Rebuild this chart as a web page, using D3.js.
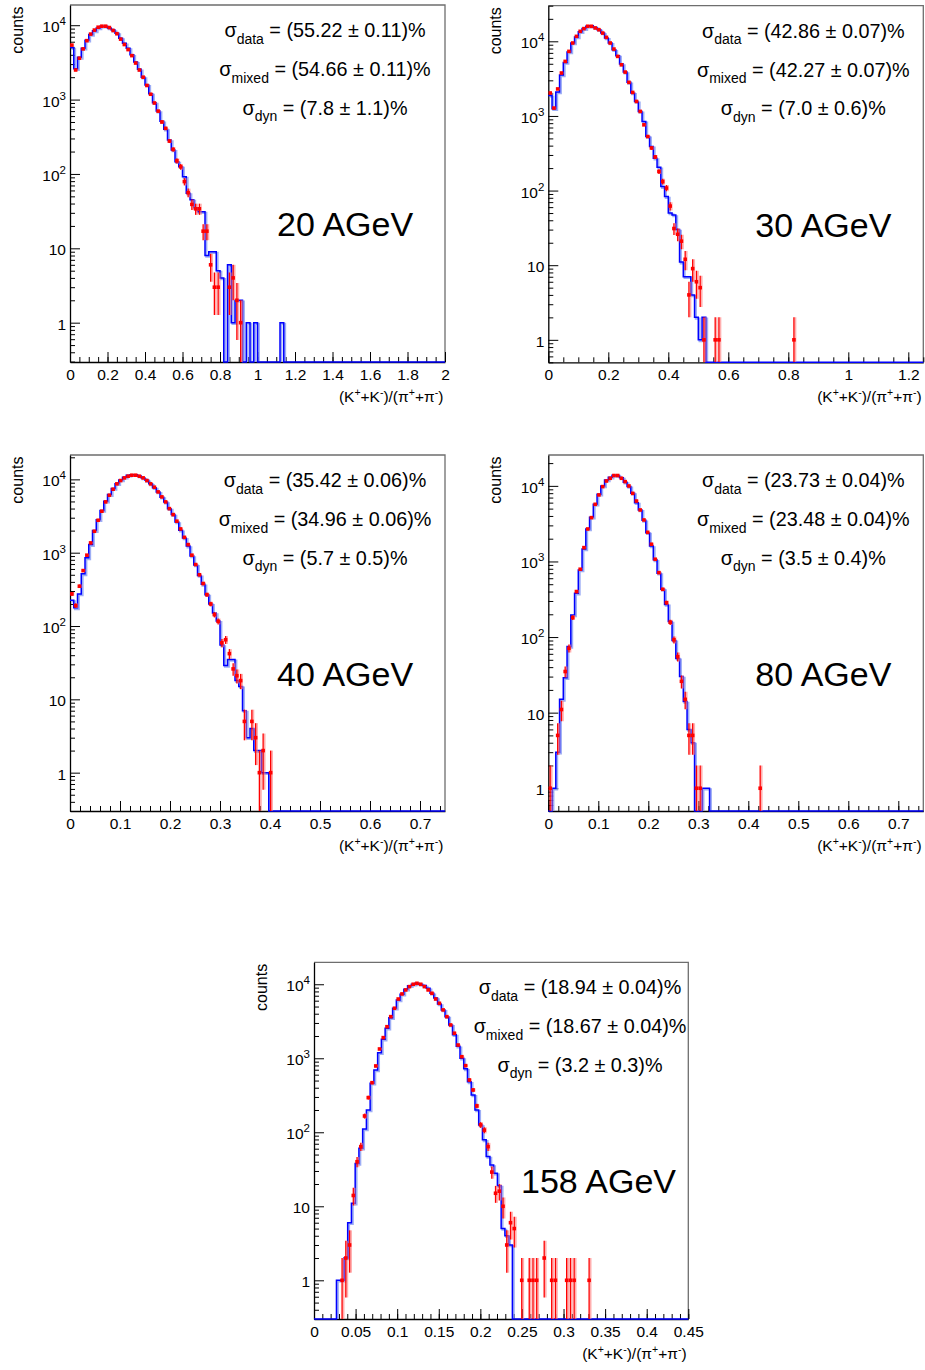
<!DOCTYPE html>
<html>
<head>
<meta charset="utf-8">
<script src="https://cdn.jsdelivr.net/npm/d3@7"></script>
<style>
  body { margin: 0; background: #fff; }
  svg { display: block; }
  text { font-family: "Liberation Sans", Arial, Helvetica, sans-serif; fill: #000; }
</style>
</head>
<body>
<svg id="chart" width="925" height="1370"></svg>
<script>
// ---- data (100 bins per panel, trailing bins are empty) ----
const NBINS = 100;

const energies = ["20 AGeV", "30 AGeV", "40 AGeV", "80 AGeV", "158 AGeV"];
const xMax = [2, 1.25, 0.75, 0.75, 0.45];

const sigmaData  = ["(55.22 \u00b1 0.11)%", "(42.86 \u00b1 0.07)%", "(35.42 \u00b1 0.06)%", "(23.73 \u00b1 0.04)%", "(18.94 \u00b1 0.04)%"];
const sigmaMixed = ["(54.66 \u00b1 0.11)%", "(42.27 \u00b1 0.07)%", "(34.96 \u00b1 0.06)%", "(23.48 \u00b1 0.04)%", "(18.67 \u00b1 0.04)%"];
const sigmaDyn   = ["(7.8 \u00b1 1.1)%", "(7.0 \u00b1 0.6)%", "(5.7 \u00b1 0.5)%", "(3.5 \u00b1 0.4)%", "(3.2 \u00b1 0.3)%"];

// mixed events (blue histogram)
const mixed20 = [5000,2600,3700,4900,6300,7500,8400,9200,9700,9700,9200,8600,7800,6700,5700,4900,4000,3200,2550,2000,
  1570,1200,910,700,510,400,285,210,146,125,92,55,45,35,31,31,8,9,9,5,4,0,6,1,2,2,0,1,0,1,0,0,0,0,0,0,1];
const mixed30 = [1880,1250,2100,3550,5200,7200,9500,11400,13400,14800,15900,16100,15300,14300,12900,11100,9500,7700,6400,4950,
  3870,2820,2030,1565,1150,845,530,390,272,205,113,83,50,47,30,11,7,7,4,2,1,2];
const mixed40 = [225,177,274,515,850,1290,2000,2820,3760,5030,6200,7500,8750,9800,10700,11400,11600,11600,11150,10480,
  9700,8690,7700,6750,5700,4900,3990,3310,2620,2020,1590,1230,900,680,490,370,268,200,150,117,55,29,35,35,18,15,7,3,4,2,2,1,1];
const mixed80 = [0,1,3,15,29,75,196,380,772,1465,2690,3845,5710,7740,9970,11970,13000,13800,13700,12800,
  11200,9800,8000,6000,4800,3500,2400,1600,1050,700,430,270,160,90,52,30,14,6,4,0,0,1,1];
const mixed158 = [0,0,0,0,0,0,1,1,2,6,11,38,61,111,200,460,695,1190,1810,2540,
  3540,4740,6140,7350,8560,9560,10000,10300,10000,9600,8800,7550,6500,5400,4500,3650,2820,2080,1450,1000,
  720,480,320,200,125,79,47,36,28,19,5,4,3];

// data (red points)
const data20 = [5400,2500,3600,4800,6200,7600,8600,9400,9700,9700,9300,8500,7700,6500,5500,4700,3900,3100,2500,2000,
  1550,1180,900,700,500,410,277,214,150,125,79,56,39,34,34,17,17,6,3,3,0,0,3,4,2,1];
const data30 = [2030,1275,2300,3760,5380,7330,9490,11650,13600,14800,15900,15900,15100,14300,12900,11300,9490,7870,6280,4850,
  3870,2820,2065,1565,1150,760,530,372,282,180,132,108,62,31,26,21,12,4,9,6,5,1,0,0,1,1,0,0,0,0,
  0,0,0,0,0,0,0,0,0,0,0,0,0,0,0,1];
const data40 = [274,190,349,570,925,1360,1960,2770,3680,4930,6080,7340,8690,9640,10480,11050,11400,11400,11050,10480,
  9640,8690,7820,6750,5770,4930,3990,3310,2690,2110,1620,1290,925,689,500,380,268,200,143,116,59,65,42,26,21,18,5,0,5,3,1,2,0,1];
const data80 = [1,0,5,11,35,71,181,400,789,1524,2690,3800,5700,7590,9780,11600,12600,13700,13700,12600,
  11370,9970,7960,6300,4800,3540,2430,1690,1070,711,428,285,157,92,55,26,15,5,5,1,1,0,0,0,0,0,0,0,0,0,
  0,0,0,0,0,0,1];
const data158 = [0,0,0,0,0,0,0,1,2,3,14,40,64,166,294,468,787,1335,1900,2670,
  3650,4740,6320,7400,8380,9290,10000,10300,10000,9290,8380,7550,6320,5530,4500,3650,2820,2180,1510,1050,
  795,509,373,227,126,107,64,29,15,16,10,3,6,5,0,1,0,1,1,1,0,2,0,1,1,0,0,1,1,1,0,0,0,1];

// axis ticks
const xTicks20 = [0,0.2,0.4,0.6,0.8,1,1.2,1.4,1.6,1.8,2];
const xTicks30 = [0,0.2,0.4,0.6,0.8,1,1.2];
const xTicks40 = [0,0.1,0.2,0.3,0.4,0.5,0.6,0.7];
const xTicks80 = [0,0.1,0.2,0.3,0.4,0.5,0.6,0.7];
const xTicks158 = [0,0.05,0.1,0.15,0.2,0.25,0.3,0.35,0.4,0.45];
const xMinorStep = [0.05, 0.05, 0.02, 0.02, 0.01];
const yTicks = [1, 10, 100, 1000, 10000];

// ---- layout ----
const frames = [
  { x: 70,    y: 5,     w: 375,   h: 357,   yDom: [0.296, 18700], statX: 255 },
  { x: 548.3, y: 5.7,   w: 375,   h: 356.6, yDom: [0.5, 30000],   statX: 255 },
  { x: 70,    y: 455,   w: 375,   h: 356,   yDom: [0.3, 21500],   statX: 255 },
  { x: 548.3, y: 455,   w: 375,   h: 356,   yDom: [0.5, 25600],   statX: 255 },
  { x: 314,   y: 962.3, w: 374.3, h: 356.7, yDom: [0.3, 19800],   statX: 266 }
];

const mixedSets = [mixed20, mixed30, mixed40, mixed80, mixed158];
const dataSets = [data20, data30, data40, data80, data158];
const xTickSets = [xTicks20, xTicks30, xTicks40, xTicks80, xTicks158];

const svg = d3.select("#chart");
const fmt = d3.format("~g");

frames.forEach((f, i) => drawPanel(i, f));

function drawPanel(i, f) {
  const g = svg.append("g").attr("transform", `translate(${f.x},${f.y})`);
  const x = d3.scaleLinear().domain([0, xMax[i]]).range([0, f.w]);
  const y = d3.scaleLog().domain(f.yDom).range([f.h, 0]);
  const bw = xMax[i] / NBINS;
  const yc = v => v > f.yDom[0] ? Math.max(0, y(v)) : f.h;

  g.append("clipPath").attr("id", "clip" + i)
    .append("rect").attr("x", 0).attr("y", 0).attr("width", f.w).attr("height", f.h);

  // frame: top/right grey, axes black
  g.append("path")
    .attr("d", `M0,0H${f.w}V${f.h}`)
    .attr("fill", "none").attr("stroke", "#6e6e6e").attr("stroke-width", 1.3);

  // x axis: minor then major ticks (inside)
  const minor = d3.range(0, xMax[i] + 1e-9, xMinorStep[i]);
  g.append("g").attr("transform", `translate(0,${f.h})`)
    .call(d3.axisBottom(x).tickValues(minor).tickSize(-5).tickSizeOuter(0).tickFormat(""))
    .call(a => a.select(".domain").remove());
  const xa = g.append("g").attr("transform", `translate(0,${f.h})`)
    .call(d3.axisBottom(x).tickValues(xTickSets[i]).tickSize(-10).tickSizeOuter(0)
      .tickPadding(7).tickFormat(fmt));
  xa.selectAll("text").attr("font-size", 15.5).attr("font-family", null);
  xa.select(".domain").attr("stroke", "#000").attr("stroke-width", 1.3);
  xa.selectAll(".tick line").attr("stroke", "#000");

  // y axis: log minor ticks
  const yMinor = [];
  for (let e = -1; e <= 4; e++) {
    for (let k = 2; k <= 9; k++) {
      const v = k * Math.pow(10, e);
      if (v >= f.yDom[0] && v <= f.yDom[1]) yMinor.push(v);
    }
  }
  g.append("g")
    .call(d3.axisLeft(y).tickValues(yMinor).tickSize(-5).tickSizeOuter(0).tickFormat(""))
    .call(a => a.select(".domain").remove());
  const ya = g.append("g")
    .call(d3.axisLeft(y).tickValues(yTicks).tickSize(-10).tickSizeOuter(0).tickPadding(4).tickFormat(""));
  ya.select(".domain").attr("stroke", "#000").attr("stroke-width", 1.3);
  ya.selectAll(".tick text").each(function(v) {
    const t = d3.select(this).attr("font-size", 15.5).attr("font-family", null).attr("dy", "0.42em");
    const e = Math.round(Math.log10(v));
    if (e <= 1) {
      t.text(String(v));
    } else {
      t.append("tspan").text("10");
      t.append("tspan").attr("font-size", 11.5).attr("dy", -7).text(String(e));
    }
  });

  // mixed events histogram (blue step line)
  const mixed = mixedSets[i];
  let d = `M0,${yc(mixed[0] || 0)}`;
  for (let b = 0; b < NBINS; b++) {
    const v = mixed[b] || 0;
    d += `V${yc(v)}H${x((b + 1) * bw)}`;
  }
  const hg = g.append("g").attr("clip-path", `url(#clip${i})`);
  hg.append("path").attr("d", d)
    .attr("fill", "none").attr("stroke", "#7d93f2").attr("stroke-width", 2.2)
    .attr("stroke-opacity", 0.75).attr("transform", "translate(1.3,1.2)");
  g.append("path").attr("d", d)
    .attr("fill", "none").attr("stroke", "#0000ff").attr("stroke-width", 1.5);

  // data points with poisson errors
  const pts = dataSets[i].map((v, b) => ({ v, b })).filter(p => p.v > 0);
  const pg = g.append("g").attr("clip-path", `url(#clip${i})`);
  pts.forEach(p => {
    const cx = x((p.b + 0.5) * bw);
    const err = Math.sqrt(p.v);
    const y1 = yc(p.v + err), y2 = yc(p.v - err);
    pg.append("line").attr("x1", cx + 1.4).attr("x2", cx + 1.4).attr("y1", y1).attr("y2", y2)
      .attr("stroke", "#ff7a7a").attr("stroke-opacity", 0.6).attr("stroke-width", 2);
    pg.append("line").attr("x1", cx).attr("x2", cx).attr("y1", y1).attr("y2", y2)
      .attr("stroke", "#ff0000").attr("stroke-width", 1.3);
    pg.append("rect").attr("x", cx - 1.8).attr("y", y(p.v) - 1.8)
      .attr("width", 3.6).attr("height", 3.6).attr("fill", "#ff0000");
  });

  // titles
  g.append("text").attr("transform", "rotate(-90)")
    .attr("x", -1.5).attr("y", -47).attr("text-anchor", "end")
    .attr("font-size", 16).text("counts");

  const xt = g.append("text").attr("x", f.w - 1.7).attr("y", f.h + 40)
    .attr("text-anchor", "end").attr("font-size", 15.5);
  [["(K", 0], ["+", 1], ["+K", 0], ["-", 1], [")/(\u03c0", 0], ["+", 1], ["+\u03c0", 0], ["-", 1], [")", 0]]
    .forEach(([s, sup]) => {
      xt.append("tspan").attr("font-size", sup ? 10.5 : null).attr("dy", sup ? -6 : (s === "(K" ? 0 : 6)).text(s);
    });

  // sigma lines
  const stats = [["data", sigmaData[i], 32], ["mixed", sigmaMixed[i], 71], ["dyn", sigmaDyn[i], 109.5]];
  stats.forEach(([sub, val, by]) => {
    const t = g.append("text").attr("x", f.statX).attr("y", by)
      .attr("text-anchor", "middle").attr("font-size", 19.8);
    t.append("tspan").text("\u03c3");
    t.append("tspan").attr("font-size", 14).attr("dy", 6.5).text(sub);
    t.append("tspan").attr("dy", -6.5).text(" = " + val);
  });

  g.append("text").attr("x", 207).attr("y", 231)
    .attr("font-size", 34).text(energies[i]);
}
</script>
</body>
</html>
